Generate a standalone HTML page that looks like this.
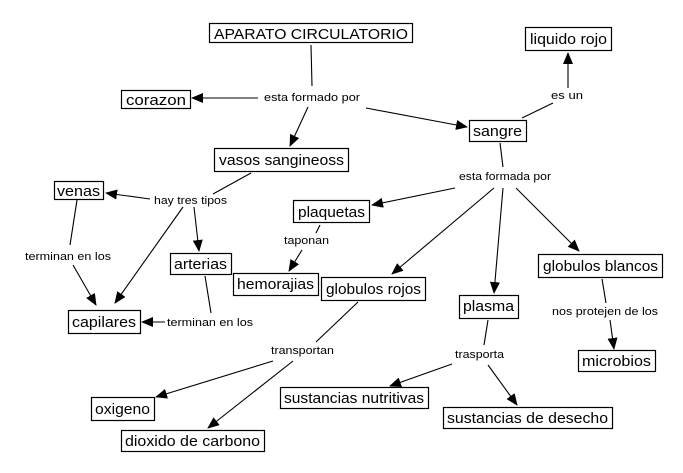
<!DOCTYPE html>
<html><head><meta charset="utf-8"><style>
html,body{margin:0;padding:0;background:#fff;}
svg{display:block;}
text{font-family:"Liberation Sans",sans-serif;fill:#000;}
.b{font-size:15px;}
.l{font-size:11px;}
rect{fill:#fff;stroke:#000;stroke-width:1.2;}
line{stroke:#000;stroke-width:1.1;}
</style></head><body>
<svg width="683" height="473" viewBox="0 0 683 473">
<defs><marker id="a" markerWidth="12" markerHeight="10" refX="11" refY="5" orient="auto" markerUnits="userSpaceOnUse"><path d="M0,0 L12,5 L0,10 z" fill="#000"/></marker></defs>
<g>
<line x1="311" y1="45" x2="312" y2="86"/>
<line x1="258" y1="98" x2="192" y2="98" marker-end="url(#a)"/>
<line x1="308" y1="107" x2="290" y2="146" marker-end="url(#a)"/>
<line x1="366" y1="108" x2="467" y2="127" marker-end="url(#a)"/>
<line x1="522" y1="118" x2="553" y2="103"/>
<line x1="568" y1="88" x2="568" y2="53" marker-end="url(#a)"/>
<line x1="500" y1="143" x2="503" y2="167"/>
<line x1="455" y1="188" x2="372" y2="205" marker-end="url(#a)"/>
<line x1="494" y1="188" x2="392" y2="274" marker-end="url(#a)"/>
<line x1="503" y1="188" x2="494" y2="293" marker-end="url(#a)"/>
<line x1="516" y1="188" x2="579" y2="251" marker-end="url(#a)"/>
<line x1="251" y1="173" x2="213" y2="194"/>
<line x1="150" y1="199" x2="106" y2="193" marker-end="url(#a)"/>
<line x1="183" y1="207" x2="115" y2="303" marker-end="url(#a)"/>
<line x1="194" y1="207" x2="199" y2="251" marker-end="url(#a)"/>
<line x1="77" y1="200" x2="70" y2="245"/>
<line x1="73" y1="265" x2="96" y2="305" marker-end="url(#a)"/>
<line x1="205" y1="276" x2="211" y2="313"/>
<line x1="165" y1="322" x2="142" y2="322" marker-end="url(#a)"/>
<line x1="320" y1="225" x2="316" y2="233"/>
<line x1="302" y1="250" x2="289" y2="271" marker-end="url(#a)"/>
<line x1="358" y1="302" x2="316" y2="342"/>
<line x1="273" y1="361" x2="156" y2="397" marker-end="url(#a)"/>
<line x1="293" y1="361" x2="208" y2="428" marker-end="url(#a)"/>
<line x1="488" y1="320" x2="484" y2="345"/>
<line x1="452" y1="364" x2="390" y2="386" marker-end="url(#a)"/>
<line x1="488" y1="365" x2="517" y2="405" marker-end="url(#a)"/>
<line x1="602" y1="279" x2="606" y2="303"/>
<line x1="610" y1="320" x2="614" y2="349" marker-end="url(#a)"/>
</g>
<g>
<rect x="209.5" y="23.5" width="203" height="19"/><text class="b" x="214" y="39" textLength="194" lengthAdjust="spacingAndGlyphs">APARATO CIRCULATORIO</text>
<rect x="525.5" y="27.5" width="86" height="23"/><text class="b" x="530" y="44" textLength="77" lengthAdjust="spacingAndGlyphs">liquido rojo</text>
<rect x="121.5" y="90.5" width="69" height="18"/><text class="b" x="126" y="105" textLength="60" lengthAdjust="spacingAndGlyphs">corazon</text>
<rect x="469.5" y="120.5" width="57" height="21"/><text class="b" x="473" y="136" textLength="49" lengthAdjust="spacingAndGlyphs">sangre</text>
<rect x="214.5" y="148.5" width="134" height="23"/><text class="b" x="219" y="165" textLength="125" lengthAdjust="spacingAndGlyphs">vasos sangineoss</text>
<rect x="54.5" y="181.5" width="49" height="18"/><text class="b" x="57" y="196" textLength="43" lengthAdjust="spacingAndGlyphs">venas</text>
<rect x="293.5" y="200.5" width="76" height="22"/><text class="b" x="298" y="217" textLength="67" lengthAdjust="spacingAndGlyphs">plaquetas</text>
<rect x="170.5" y="253.5" width="61" height="21"/><text class="b" x="174" y="269" textLength="53" lengthAdjust="spacingAndGlyphs">arterias</text>
<rect x="233.5" y="273.5" width="85" height="22"/><text class="b" x="237" y="289" textLength="77" lengthAdjust="spacingAndGlyphs">hemorajias</text>
<rect x="321.5" y="277.5" width="104" height="23"/><text class="b" x="326" y="294" textLength="95" lengthAdjust="spacingAndGlyphs">globulos rojos</text>
<rect x="538.5" y="254.5" width="124" height="23"/><text class="b" x="543" y="271" textLength="115" lengthAdjust="spacingAndGlyphs">globulos blancos</text>
<rect x="459.5" y="295.5" width="59" height="23"/><text class="b" x="463" y="311" textLength="51" lengthAdjust="spacingAndGlyphs">plasma</text>
<rect x="68.5" y="310.5" width="72" height="23"/><text class="b" x="72" y="327" textLength="64" lengthAdjust="spacingAndGlyphs">capilares</text>
<rect x="578.5" y="350.5" width="77" height="21"/><text class="b" x="582" y="366" textLength="69" lengthAdjust="spacingAndGlyphs">microbios</text>
<rect x="91.5" y="397.5" width="63" height="23"/><text class="b" x="95" y="414" textLength="55" lengthAdjust="spacingAndGlyphs">oxigeno</text>
<rect x="280.5" y="387.5" width="148" height="21"/><text class="b" x="284" y="403" textLength="140" lengthAdjust="spacingAndGlyphs">sustancias nutritivas</text>
<rect x="443.5" y="407.5" width="169" height="21"/><text class="b" x="447" y="423" textLength="161" lengthAdjust="spacingAndGlyphs">sustancias de desecho</text>
<rect x="121.5" y="430.5" width="143" height="21"/><text class="b" x="125" y="446" textLength="135" lengthAdjust="spacingAndGlyphs">dioxido de carbono</text>
</g>
<g class="l">
<text class="l" x="264" y="101" textLength="96" lengthAdjust="spacingAndGlyphs">esta  formado por</text>
<text class="l" x="551" y="99" textLength="32" lengthAdjust="spacingAndGlyphs">es un</text>
<text class="l" x="459" y="180" textLength="92" lengthAdjust="spacingAndGlyphs">esta formada por</text>
<text class="l" x="154" y="204" textLength="73" lengthAdjust="spacingAndGlyphs">hay tres tipos</text>
<text class="l" x="284" y="244" textLength="45" lengthAdjust="spacingAndGlyphs">taponan</text>
<text class="l" x="25" y="260" textLength="86" lengthAdjust="spacingAndGlyphs">terminan en los</text>
<text class="l" x="167" y="326" textLength="86" lengthAdjust="spacingAndGlyphs">terminan en los</text>
<text class="l" x="552" y="315" textLength="106" lengthAdjust="spacingAndGlyphs">nos protejen de los</text>
<text class="l" x="271" y="354" textLength="63" lengthAdjust="spacingAndGlyphs">transportan</text>
<text class="l" x="455" y="358" textLength="49" lengthAdjust="spacingAndGlyphs">trasporta</text>
</g>
</svg>
</body></html>
